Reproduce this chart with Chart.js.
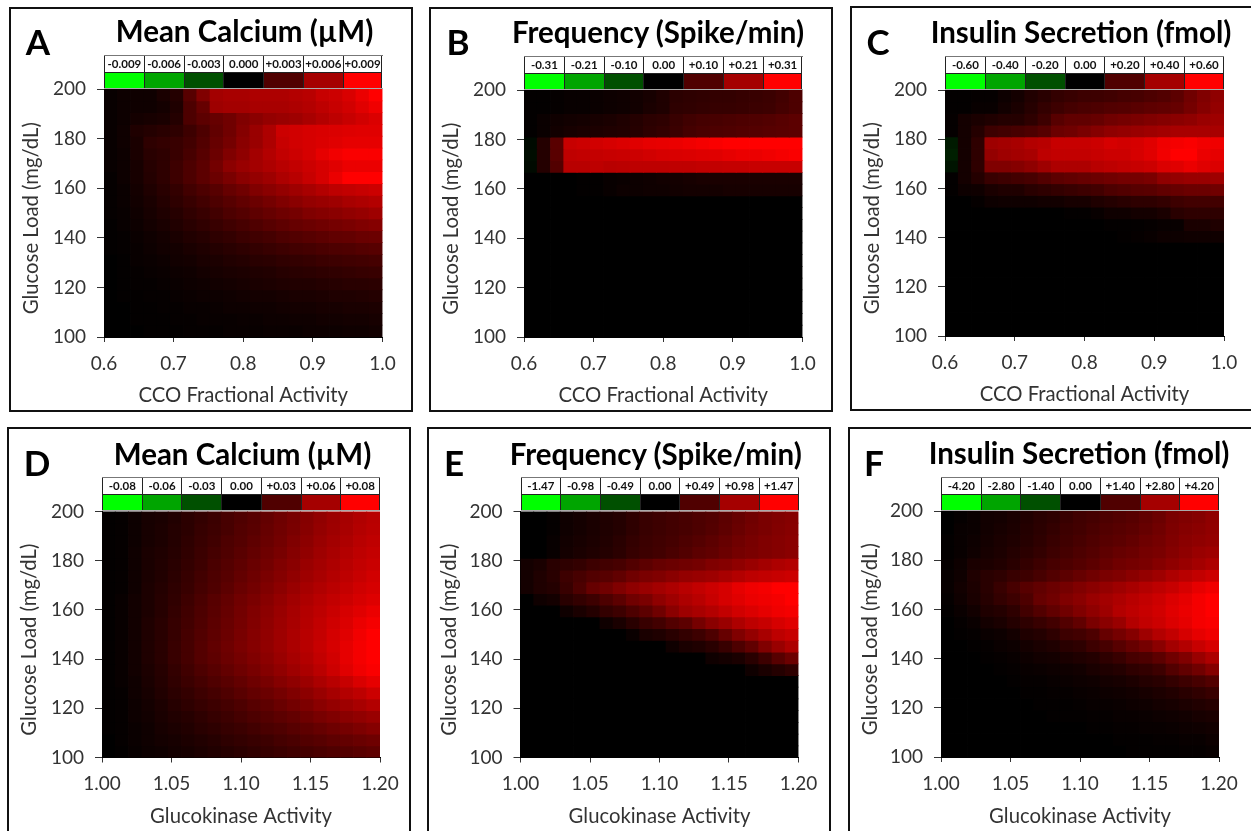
<!DOCTYPE html>
<html><head><meta charset="utf-8">
<script src="https://cdn.jsdelivr.net/npm/chart.js@4"></script>
<style>
html,body{margin:0;padding:0;background:#fff;width:1251px;height:831px;overflow:hidden;font-family:Lato,sans-serif}
body{filter:blur(0.35px)}
.frame{position:absolute;border:2px solid #111;box-sizing:border-box}
canvas{position:absolute}
.title{position:absolute;font:bold 29.5px Lato,sans-serif;color:#000;transform:translateX(-50%);white-space:nowrap;line-height:32px}
.letter{position:absolute;font:bold 35px Lato,sans-serif;color:#000;transform:translateX(-50%);line-height:40px}
.scale{position:absolute;height:34px;box-sizing:border-box;border-top:1.5px solid #777;border-bottom:1.5px solid #aaa;display:grid;grid-template-columns:repeat(7,1fr);grid-template-rows:16px 16px;background:#fff}
.scale div{box-sizing:border-box;border-left:1px solid #222;text-align:center;font:bold 11.5px/16px Lato,sans-serif;color:#111;white-space:nowrap;overflow:hidden}
.scale div:nth-child(7n){border-right:1px solid #222}
.scale div.sw{border-top:1px solid #222}
</style></head><body>
<script>
// Cell values: percent of each panel's colour-scale maximum, rows from 200 mg/dL down to 100 mg/dL.
const calciumCCO = [
[3,5,6,6,10,14,34,50,64,66,66,68,68,68,70,72,78,80,85,92,100],
[3,5,6,6,8,12,30,40,62,64,64,66,66,66,68,70,74,78,82,88,94],
[3,5,8,9,10,14,30,36,40,44,50,54,58,60,62,66,70,74,78,82,86],
[3,6,12,14,16,18,24,30,38,44,52,60,68,80,82,84,85,86,87,88,88],
[3,6,10,18,20,22,26,32,40,46,54,60,68,78,82,84,86,88,90,90,90],
[3,5,10,16,18,22,28,34,42,50,56,64,70,76,80,84,90,95,98,98,98],
[3,5,9,15,18,24,30,36,45,55,60,64,68,72,76,80,84,88,92,92,92],
[2,5,9,14,18,24,30,36,42,48,54,58,62,68,72,78,84,92,100,100,100],
[2,4,8,12,16,20,26,30,34,40,44,50,54,58,62,66,70,74,76,78,80],
[2,4,7,10,14,18,22,26,30,34,38,42,46,50,54,58,60,62,66,68,70],
[2,3,6,9,12,15,19,22,26,30,33,37,40,43,46,50,52,54,57,59,62],
[1,3,5,8,10,13,16,19,22,25,28,31,34,37,40,42,44,46,48,50,52],
[1,2,4,6,8,10,13,15,18,20,23,25,27,30,32,34,36,38,39,41,42],
[1,2,3,5,7,8,10,12,14,16,18,20,22,24,26,27,29,30,31,33,34],
[0,1,3,4,5,7,8,10,11,13,14,16,17,19,20,21,23,24,25,26,27],
[0,1,2,3,4,5,6,8,9,10,11,12,13,15,16,17,18,19,20,21,22],
[0,1,2,2,3,4,5,6,7,8,9,10,11,12,13,13,14,15,16,16,17],
[0,1,1,2,2,3,4,5,5,6,7,8,8,9,10,10,11,12,12,13,14],
[0,0,1,1,2,2,3,3,4,5,5,6,6,7,8,8,9,9,10,10,11],
[0,0,1,1,1,2,2,3,3,3,4,4,5,5,6,6,7,7,8,8,9],
[0,0,0,1,1,1,2,2,2,3,3,3,4,4,4,5,5,5,6,6,7]];
const frequencyCCO = [
[1,1,2,3,3,4,5,6,7,9,12,17,18,19,20,20,21,22,23,26,30],
[1,1,2,3,3,4,5,6,7,10,12,18,19,20,21,21,22,23,24,27,30],
[1,4,6,7,8,9,10,12,14,17,18,22,25,27,28,29,30,31,32,34,36],
[1,4,7,9,10,11,12,13,15,18,20,23,27,29,30,31,32,33,34,35,36],
[-4,14,35,78,80,82,84,86,88,90,91,92,94,96,98,100,100,100,100,100,100],
[-5,14,35,75,76,77,78,79,80,82,84,85,86,87,88,90,92,92,94,96,98],
[-4,14,32,72,72,74,72,73,74,74,74,75,75,76,76,77,77,78,78,78,78],
[0,0,0,0,1,1,3,4,5,6,7,8,9,10,10,10,10,10,10,10,10],
[0,0,0,0,1,1,3,5,5,6,6,7,8,8,8,9,9,9,9,9,9],
[0,0,0,0,0,0,0,0,0,0,0,0,0,0,0,0,0,0,0,0,0],
[0,0,0,0,0,0,0,0,0,0,0,0,0,0,0,0,0,0,0,0,0],
[0,0,0,0,0,0,0,0,0,0,0,0,0,0,0,0,0,0,0,0,0],
[0,0,0,0,0,0,0,0,0,0,0,0,0,0,0,0,0,0,0,0,0],
[0,0,0,0,0,0,0,0,0,0,0,0,0,0,0,0,0,0,0,0,0],
[0,0,0,0,0,0,0,0,0,0,0,0,0,0,0,0,0,0,0,0,0],
[0,0,0,0,0,0,0,0,0,0,0,0,0,0,0,0,0,0,0,0,0],
[0,0,0,0,0,0,0,0,0,0,0,0,0,0,0,0,0,0,0,0,0],
[0,0,0,0,0,0,0,0,0,0,0,0,0,0,0,0,0,0,0,0,0],
[0,0,0,0,0,0,0,0,0,0,0,0,0,0,0,0,0,0,0,0,0],
[0,0,0,0,0,0,0,0,0,0,0,0,0,0,0,0,0,0,0,0,0],
[0,0,0,0,0,0,0,0,0,0,0,0,0,0,0,0,0,0,0,0,0]];
const insulinCCO = [
[1,1,2,2,5,8,13,16,20,22,24,24,25,27,28,30,32,36,44,50,56],
[1,1,3,3,7,10,15,20,24,27,29,30,32,33,35,37,38,40,46,52,58],
[2,8,10,12,14,14,18,24,34,38,38,40,44,46,48,50,52,54,56,60,62],
[2,8,14,24,26,28,30,34,42,44,48,52,56,58,60,62,64,66,66,66,66],
[-10,8,18,62,64,66,70,72,78,78,78,80,84,82,84,88,94,96,98,95,94],
[-12,8,18,58,62,64,66,74,76,76,76,78,80,80,84,88,95,100,100,92,90],
[-8,8,18,50,50,52,56,62,68,68,68,72,74,76,78,80,86,88,92,88,86],
[1,8,14,22,24,26,28,32,36,38,40,42,44,46,46,48,56,58,60,60,62],
[1,5,6,10,12,12,16,18,20,22,24,26,30,32,34,35,38,40,42,42,44],
[0,0,2,5,6,6,6,7,7,9,9,12,14,16,18,18,20,24,26,26,26],
[0,0,0,0,0,0,0,0,0,1,1,3,6,6,8,8,10,16,18,18,18],
[0,0,0,0,0,0,0,0,0,0,0,0,1,1,1,2,3,3,10,10,12],
[0,0,0,0,0,0,0,0,0,0,0,0,0,1,2,3,5,5,6,6,6],
[0,0,0,0,0,0,0,0,0,0,0,0,0,0,0,0,0,0,0,0,0],
[0,0,0,0,0,0,0,0,0,0,0,0,0,0,0,0,0,0,0,0,0],
[0,0,0,0,0,0,0,0,0,0,0,0,0,0,0,0,0,0,0,0,0],
[0,0,0,0,0,0,0,0,0,0,0,0,0,0,0,0,0,0,0,0,0],
[0,0,0,0,0,0,0,0,0,0,0,0,0,0,0,0,0,0,0,0,0],
[0,0,0,0,0,0,0,0,0,0,0,0,0,0,0,0,0,0,0,0,0],
[0,0,0,0,0,0,0,0,0,0,0,0,0,0,0,0,0,0,0,0,0],
[0,0,0,0,0,0,0,0,0,0,0,0,0,0,0,0,0,0,0,0,0]];
const calciumGK = [
[1,2,5,9,10,13,17,20,23,28,31,34,39,43,47,52,57,61,65,69,72],
[1,2,5,9,11,14,17,21,24,28,32,35,40,44,48,53,58,62,66,70,73],
[1,2,5,9,11,14,18,22,25,30,33,37,41,45,50,55,60,64,68,72,75],
[1,2,6,10,12,15,19,23,27,31,35,39,43,47,52,57,62,66,70,74,77],
[1,2,6,10,13,16,20,24,29,33,37,41,45,50,54,60,64,68,72,76,79],
[1,2,6,10,13,17,21,26,30,34,39,43,48,52,57,62,66,70,74,78,82],
[1,2,6,11,14,18,22,27,31,36,41,45,50,55,60,65,69,73,77,81,84],
[1,3,7,11,15,19,24,29,34,39,44,48,53,58,63,68,72,76,80,84,87],
[1,3,7,11,15,20,25,30,35,40,45,50,55,60,65,70,74,79,84,88,92],
[1,3,7,12,16,21,26,31,36,41,46,51,56,61,66,71,76,81,86,92,96],
[1,3,7,12,16,21,27,32,37,42,47,52,57,62,67,72,77,83,88,95,100],
[1,3,7,12,16,22,27,33,38,43,48,52,57,62,67,72,78,84,90,96,100],
[1,3,7,12,16,22,27,33,37,42,46,50,55,60,65,70,76,82,90,96,100],
[1,3,7,11,15,20,25,30,34,39,43,47,52,57,62,67,73,80,88,94,98],
[1,3,6,10,14,19,23,27,31,35,39,43,47,52,56,61,67,72,78,85,90],
[1,2,6,9,13,17,20,24,27,31,35,39,42,46,50,55,60,65,70,74,80],
[1,2,5,8,11,15,18,21,24,27,30,34,37,41,45,49,54,58,62,66,70],
[1,2,5,7,10,13,15,18,21,24,27,30,33,36,39,43,47,50,54,57,60],
[1,2,4,6,9,11,13,16,18,21,23,26,29,31,34,37,40,43,46,49,52],
[0,2,4,6,8,9,11,13,15,18,20,22,24,27,29,32,34,37,39,41,43],
[0,1,3,5,6,8,9,11,13,15,17,19,21,23,25,27,29,31,33,35,37]];
const frequencyGK = [
[0,0,2,6,8,10,12,14,18,22,24,26,28,30,32,36,40,44,48,50,52],
[0,0,2,6,8,10,12,14,18,22,24,26,28,30,33,37,41,45,48,51,53],
[0,0,3,7,9,11,13,16,20,23,25,27,30,33,36,40,44,47,50,52,54],
[0,0,3,8,10,12,14,17,21,24,26,29,32,36,38,42,46,48,50,52,54],
[8,10,16,18,20,24,26,28,32,36,40,42,44,46,50,52,56,60,64,68,70],
[8,12,16,24,28,32,34,38,44,48,50,54,58,60,62,66,70,74,76,78,80],
[8,12,14,22,30,40,44,50,56,60,64,68,72,76,80,84,90,94,96,100,100],
[0,6,8,16,20,24,30,36,44,48,56,62,68,72,78,84,88,92,94,96,100],
[0,0,0,6,10,14,20,24,30,36,44,54,62,66,70,76,82,86,90,94,96],
[0,0,0,0,0,0,6,10,16,22,26,32,36,46,54,60,68,74,78,84,88],
[0,0,0,0,0,0,0,0,4,10,12,16,20,24,30,40,50,58,66,74,78],
[0,0,0,0,0,0,0,0,0,0,0,6,10,12,16,22,30,38,50,60,68],
[0,0,0,0,0,0,0,0,0,0,0,0,0,0,6,8,10,16,24,34,42],
[0,0,0,0,0,0,0,0,0,0,0,0,0,0,0,0,0,6,10,14,18],
[0,0,0,0,0,0,0,0,0,0,0,0,0,0,0,0,0,0,0,0,0],
[0,0,0,0,0,0,0,0,0,0,0,0,0,0,0,0,0,0,0,0,0],
[0,0,0,0,0,0,0,0,0,0,0,0,0,0,0,0,0,0,0,0,0],
[0,0,0,0,0,0,0,0,0,0,0,0,0,0,0,0,0,0,0,0,0],
[0,0,0,0,0,0,0,0,0,0,0,0,0,0,0,0,0,0,0,0,0],
[0,0,0,0,0,0,0,0,0,0,0,0,0,0,0,0,0,0,0,0,0],
[0,0,0,0,0,0,0,0,0,0,0,0,0,0,0,0,0,0,0,0,0]];
const insulinGK = [
[0,2,4,7,8,10,13,16,18,22,25,27,30,32,34,38,42,48,50,52,56],
[0,3,4,7,9,11,14,17,20,24,26,29,32,34,36,40,44,49,52,54,57],
[1,3,5,8,10,12,15,18,22,25,28,31,34,36,39,43,46,50,54,56,58],
[1,3,6,9,11,14,17,20,24,27,30,33,37,40,42,46,48,52,56,60,62],
[2,5,10,11,13,16,20,24,28,30,33,36,40,44,46,48,52,56,60,64,68],
[3,6,12,16,18,22,24,28,32,36,40,44,48,50,54,58,62,68,72,76,80],
[3,7,11,16,22,28,34,38,42,46,50,54,58,62,66,70,74,78,84,90,94],
[2,6,10,15,20,24,30,40,44,50,54,60,64,68,72,76,80,86,90,96,100],
[1,4,7,12,14,18,26,32,38,44,50,56,62,70,74,78,82,88,92,96,100],
[0,2,4,8,10,14,18,22,26,32,38,48,54,60,70,76,80,86,90,96,98],
[0,1,2,4,5,8,12,14,18,24,26,30,40,46,52,62,70,76,84,90,94],
[0,0,1,2,4,5,8,10,12,16,18,24,28,34,40,46,54,64,70,78,84],
[0,0,0,1,2,3,5,7,8,10,12,14,18,22,28,30,36,44,50,60,68],
[0,0,0,0,1,2,3,4,5,6,7,10,12,14,18,20,24,32,38,44,52],
[0,0,0,0,0,1,2,2,3,4,5,6,8,9,11,14,16,20,24,28,32],
[0,0,0,0,0,0,1,1,2,2,3,4,5,6,7,9,11,13,16,19,22],
[0,0,0,0,0,0,0,1,1,1,2,3,3,4,5,6,8,9,11,13,15],
[0,0,0,0,0,0,0,0,1,1,1,2,2,3,3,4,5,6,7,9,10],
[0,0,0,0,0,0,0,0,0,0,0,1,1,2,2,3,3,4,5,6,7],
[0,0,0,0,0,0,0,0,0,0,0,0,0,1,1,1,2,2,3,3,5],
[0,0,0,0,0,0,0,0,0,0,0,0,0,0,1,1,1,1,2,2,3]];

const ccoColumns = ['0.60','0.62','0.64','0.66','0.68','0.70','0.72','0.74','0.76','0.78','0.80','0.82','0.84','0.86','0.88','0.90','0.92','0.94','0.96','0.98','1.00'];
const gkColumns = ['1.00','1.01','1.02','1.03','1.04','1.05','1.06','1.07','1.08','1.09','1.10','1.11','1.12','1.13','1.14','1.15','1.16','1.17','1.18','1.19','1.20'];
const scaleCalciumCCO = ['-0.009','-0.006','-0.003','0.000','+0.003','+0.006','+0.009'];
const scaleFrequencyCCO = ['-0.31','-0.21','-0.10','0.00','+0.10','+0.21','+0.31'];
const scaleInsulinCCO = ['-0.60','-0.40','-0.20','0.00','+0.20','+0.40','+0.60'];
const scaleCalciumGK = ['-0.08','-0.06','-0.03','0.00','+0.03','+0.06','+0.08'];
const scaleFrequencyGK = ['-1.47','-0.98','-0.49','0.00','+0.49','+0.98','+1.47'];
const scaleInsulinGK = ['-4.20','-2.80','-1.40','0.00','+1.40','+2.80','+4.20'];
const swatches = ['#00ff00','#00a500','#005000','#000000','#500000','#a50000','#ff0000'];

const panels = [
 {letter:'A',title:'Mean Calcium (µM)',xTitle:'CCO Fractional Activity',cols:ccoColumns,vals:calciumCCO,scale:scaleCalciumCCO,xr:[0.6,1.0,0.1,1],frame:[9,7,404,405],plot:[104,89,382.5,337],tc:244.5,lc:38,ly:21},
 {letter:'B',title:'Frequency (Spike/min)',xTitle:'CCO Fractional Activity',cols:ccoColumns,vals:frequencyCCO,scale:scaleFrequencyCCO,xr:[0.6,1.0,0.1,1],frame:[429,7,404,405],plot:[524,90,802.5,337],tc:658,lc:458,ly:21},
 {letter:'C',title:'Insulin Secretion (fmol)',xTitle:'CCO Fractional Activity',cols:ccoColumns,vals:insulinCCO,scale:scaleInsulinCCO,xr:[0.6,1.0,0.1,1],frame:[850,6,410,405],plot:[945,90,1224,336],tc:1081,lc:878,ly:21},
 {letter:'D',title:'Mean Calcium (µM)',xTitle:'Glucokinase Activity',cols:gkColumns,vals:calciumGK,scale:scaleCalciumGK,xr:[1.0,1.2,0.05,2],frame:[7,427,404,420],plot:[102,511.5,380,757.5],tc:242.5,lc:37,ly:442},
 {letter:'E',title:'Frequency (Spike/min)',xTitle:'Glucokinase Activity',cols:gkColumns,vals:frequencyGK,scale:scaleFrequencyGK,xr:[1.0,1.2,0.05,2],frame:[427,427,404,420],plot:[520.5,511.5,798.5,757.5],tc:655.7,lc:454,ly:442},
 {letter:'F',title:'Insulin Secretion (fmol)',xTitle:'Glucokinase Activity',cols:gkColumns,vals:insulinGK,scale:scaleInsulinGK,xr:[1.0,1.2,0.05,2],frame:[848,427,410,420],plot:[941,511,1219,757],tc:1079,lc:874,ly:442}
];

function cellColor(p){
  const v = Math.round(Math.abs(p)/100*255);
  return p<0 ? `rgb(0,${v},0)` : `rgb(${v},0,0)`;
}
const tickFont = {family:'Lato',size:19};
const titleFont = {family:'Lato',size:20.3};
const inkDark = '#333';

function el(cls,txt,css){const d=document.createElement('div');d.className=cls;if(txt!=null)d.textContent=txt;Object.assign(d.style,css);document.body.appendChild(d);return d;}

panels.forEach(p=>{
  const [fx,fy,fw,fh]=p.frame, [pl,pt,pr,pb]=p.plot;
  el('frame',null,{left:fx+'px',top:fy+'px',width:fw+'px',height:fh+'px'});
  const W=Math.min(fw,1251-fx), H=Math.min(fh,831-fy);
  const cv=document.createElement('canvas');cv.width=W-4;cv.height=H-(fy>400?2:4);
  cv.style.left=(fx+2)+'px';cv.style.top=(fy+2)+'px';document.body.appendChild(cv);
  const ox=fx+2, oy=fy+2;
  el('title',p.title,{left:p.tc+'px',top:(pt-74)+'px'});
  el('letter',p.letter,{left:p.lc+'px',top:p.ly+'px'});
  const sc=el('scale',null,{left:pl+'px',top:(pt-34.5)+'px',width:(pr-pl)+'px'});
  p.scale.forEach(t=>{const d=document.createElement('div');d.textContent=t;sc.appendChild(d);});
  swatches.forEach(c=>{const d=document.createElement('div');d.className='sw';d.style.background=c;sc.appendChild(d);});

  const n=p.vals.length, h=100/n;
  const datasets=p.vals.map((row,r)=>({
    xAxisID:'cells',yAxisID:'y',grouped:false,
    data:row.map(()=>[200-(r+1)*h,200-r*h]),
    backgroundColor:row.map(cellColor),borderWidth:0,inflateAmount:0.4,
    barPercentage:1,categoryPercentage:1
  }));
  new Chart(cv,{type:'bar',data:{labels:p.cols,datasets},options:{
    responsive:false,animation:false,
    layout:{padding:{left:0,top:pt-oy,right:cv.width-(pr-ox),bottom:0}},
    plugins:{legend:{display:false},tooltip:{enabled:false}},
    scales:{
      cells:{type:'category',axis:'x',display:false,offset:true,grid:{offset:true,display:false}},
      x:{type:'linear',position:'bottom',offset:false,min:p.xr[0],max:p.xr[1],
        grid:{offset:false,display:true,drawOnChartArea:false,drawTicks:true,tickLength:5,tickColor:inkDark,color:inkDark},
        border:{display:true,color:'#000'},
        ticks:{stepSize:p.xr[2],color:inkDark,font:tickFont,padding:10,maxRotation:0,autoSkip:false,callback:v=>Number(v).toFixed(p.xr[3])},
        title:{display:true,text:p.xTitle,color:inkDark,font:titleFont,padding:{top:0,bottom:2}},
        afterFit(s){s.height=cv.height-(pb-oy);}
      },
      y:{type:'linear',position:'left',min:100,max:200,beginAtZero:false,
        grid:{display:true,drawOnChartArea:false,drawTicks:true,tickLength:7,tickColor:inkDark,color:inkDark},
        border:{display:true,color:'#000'},
        ticks:{stepSize:20,color:inkDark,font:tickFont,padding:11,autoSkip:false},
        title:{display:true,text:'Glucose Load (mg/dL)  ',color:inkDark,font:titleFont,padding:{top:8,bottom:0}},
        afterFit(s){s.width=pl-ox;}
      }
    }
  }});
});
</script>
</body></html>
